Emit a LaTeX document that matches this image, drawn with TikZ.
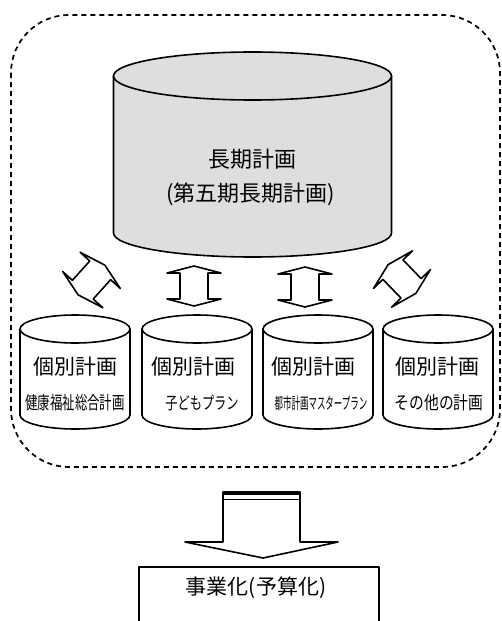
\documentclass[tikz,border=0pt]{standalone}
\usepackage{fontspec}
\setmainfont{Noto Sans CJK JP}
\usepackage{graphicx}
\newcommand\drumbody[6]{%
  \path[draw, fill=#6] (#1-#4,#2) -- (#1-#4,#3)
    .. controls (#1-#4,#3+0.5523*#5) and (#1-0.5523*#4,#3+#5) .. (#1,#3+#5)
    .. controls (#1+0.5523*#4,#3+#5) and (#1+#4,#3+0.5523*#5) .. (#1+#4,#3)
    -- (#1+#4,#2) -- cycle;
  \draw[fill=#6] (#1,#2) ellipse [x radius=#4pt, y radius=#5pt];
}
\newcommand\dblarrow[3]{%
  \draw[fill=white, shift={(#1,#2)}, rotate=#3]
    (0,-20) -- (27,-13) -- (14,-13) -- (14,13) -- (27,13) -- (0,20)
    -- (-27,13) -- (-14,13) -- (-14,-13) -- (-27,-13) -- cycle;
}
\tikzset{
  bigtxt/.style={font=\fontsize{22}{22}\selectfont, inner sep=0pt},
  ttl/.style={font=\fontsize{21}{21}\selectfont, inner sep=0pt},
  sub/.style={inner sep=0pt},
  region/.style={dash pattern=on 5pt off 4pt, line width=1.7pt, rounded corners=58pt}
}
\begin{document}
\begin{tikzpicture}[x=1pt,y=-1pt, line width=1.6pt, line join=round]
\useasboundingbox (0,0) rectangle (502,621);
% dashed region
\draw[region] (11,15) rectangle (500,467);
% big cylinder
\drumbody{252.5}{76}{233}{139}{24}{black!13}
\node[bigtxt] (main1) at (252,159) {長期計画};
\node[bigtxt] (main2) at (250.5,194) {(第五期長期計画)};
% small cylinders
\drumbody{75}{329}{415}{55}{14}{white}
\drumbody{197}{329}{415}{55}{14}{white}
\drumbody{318}{329}{415}{55}{14}{white}
\drumbody{438}{329}{415}{55}{14}{white}
\node[ttl] (p1) at (75,367) {個別計画};
\node[ttl] (p2) at (193,367) {個別計画};
\node[ttl] (p3) at (313,367) {個別計画};
\node[ttl] (p4) at (437,367) {個別計画};
\node[sub, font=\fontsize{18}{18}\selectfont] (s1) at (75,403) {\scalebox{0.69}[1]{健康福祉総合計画}};
\node[sub, font=\fontsize{17}{17}\selectfont] (s2) at (202,403) {\scalebox{0.72}[1]{子どもプラン}};
\node[sub, font=\fontsize{16}{16}\selectfont] (s3) at (321,403) {\scalebox{0.53}[1]{都市計画マスタープラン}};
\node[sub, font=\fontsize{18}{18}\selectfont] (s4) at (439,403) {\scalebox{0.82}[1]{その他の計画}};
% double arrows
\dblarrow{91.5}{280}{-42}
\dblarrow{194}{286}{0}
\dblarrow{305}{287}{0}
\dblarrow{402}{279}{44}
% bottom arrow
\draw[fill=white] (223,492) -- (223,542) -- (185,542) -- (263,558) -- (338,542) -- (300,542) -- (300,492) -- cycle;
\draw[line width=3pt] (223,493.5) -- (300,493.5);
\draw[line width=1pt] (223,499) -- (300,499);
% result box
\draw (139,630) -- (139,567) -- (379,567) -- (379,630);
\node[bigtxt, font=\fontsize{21}{21}\selectfont] (res) at (256,588) {事業化(予算化)};
\end{tikzpicture}
\end{document}
